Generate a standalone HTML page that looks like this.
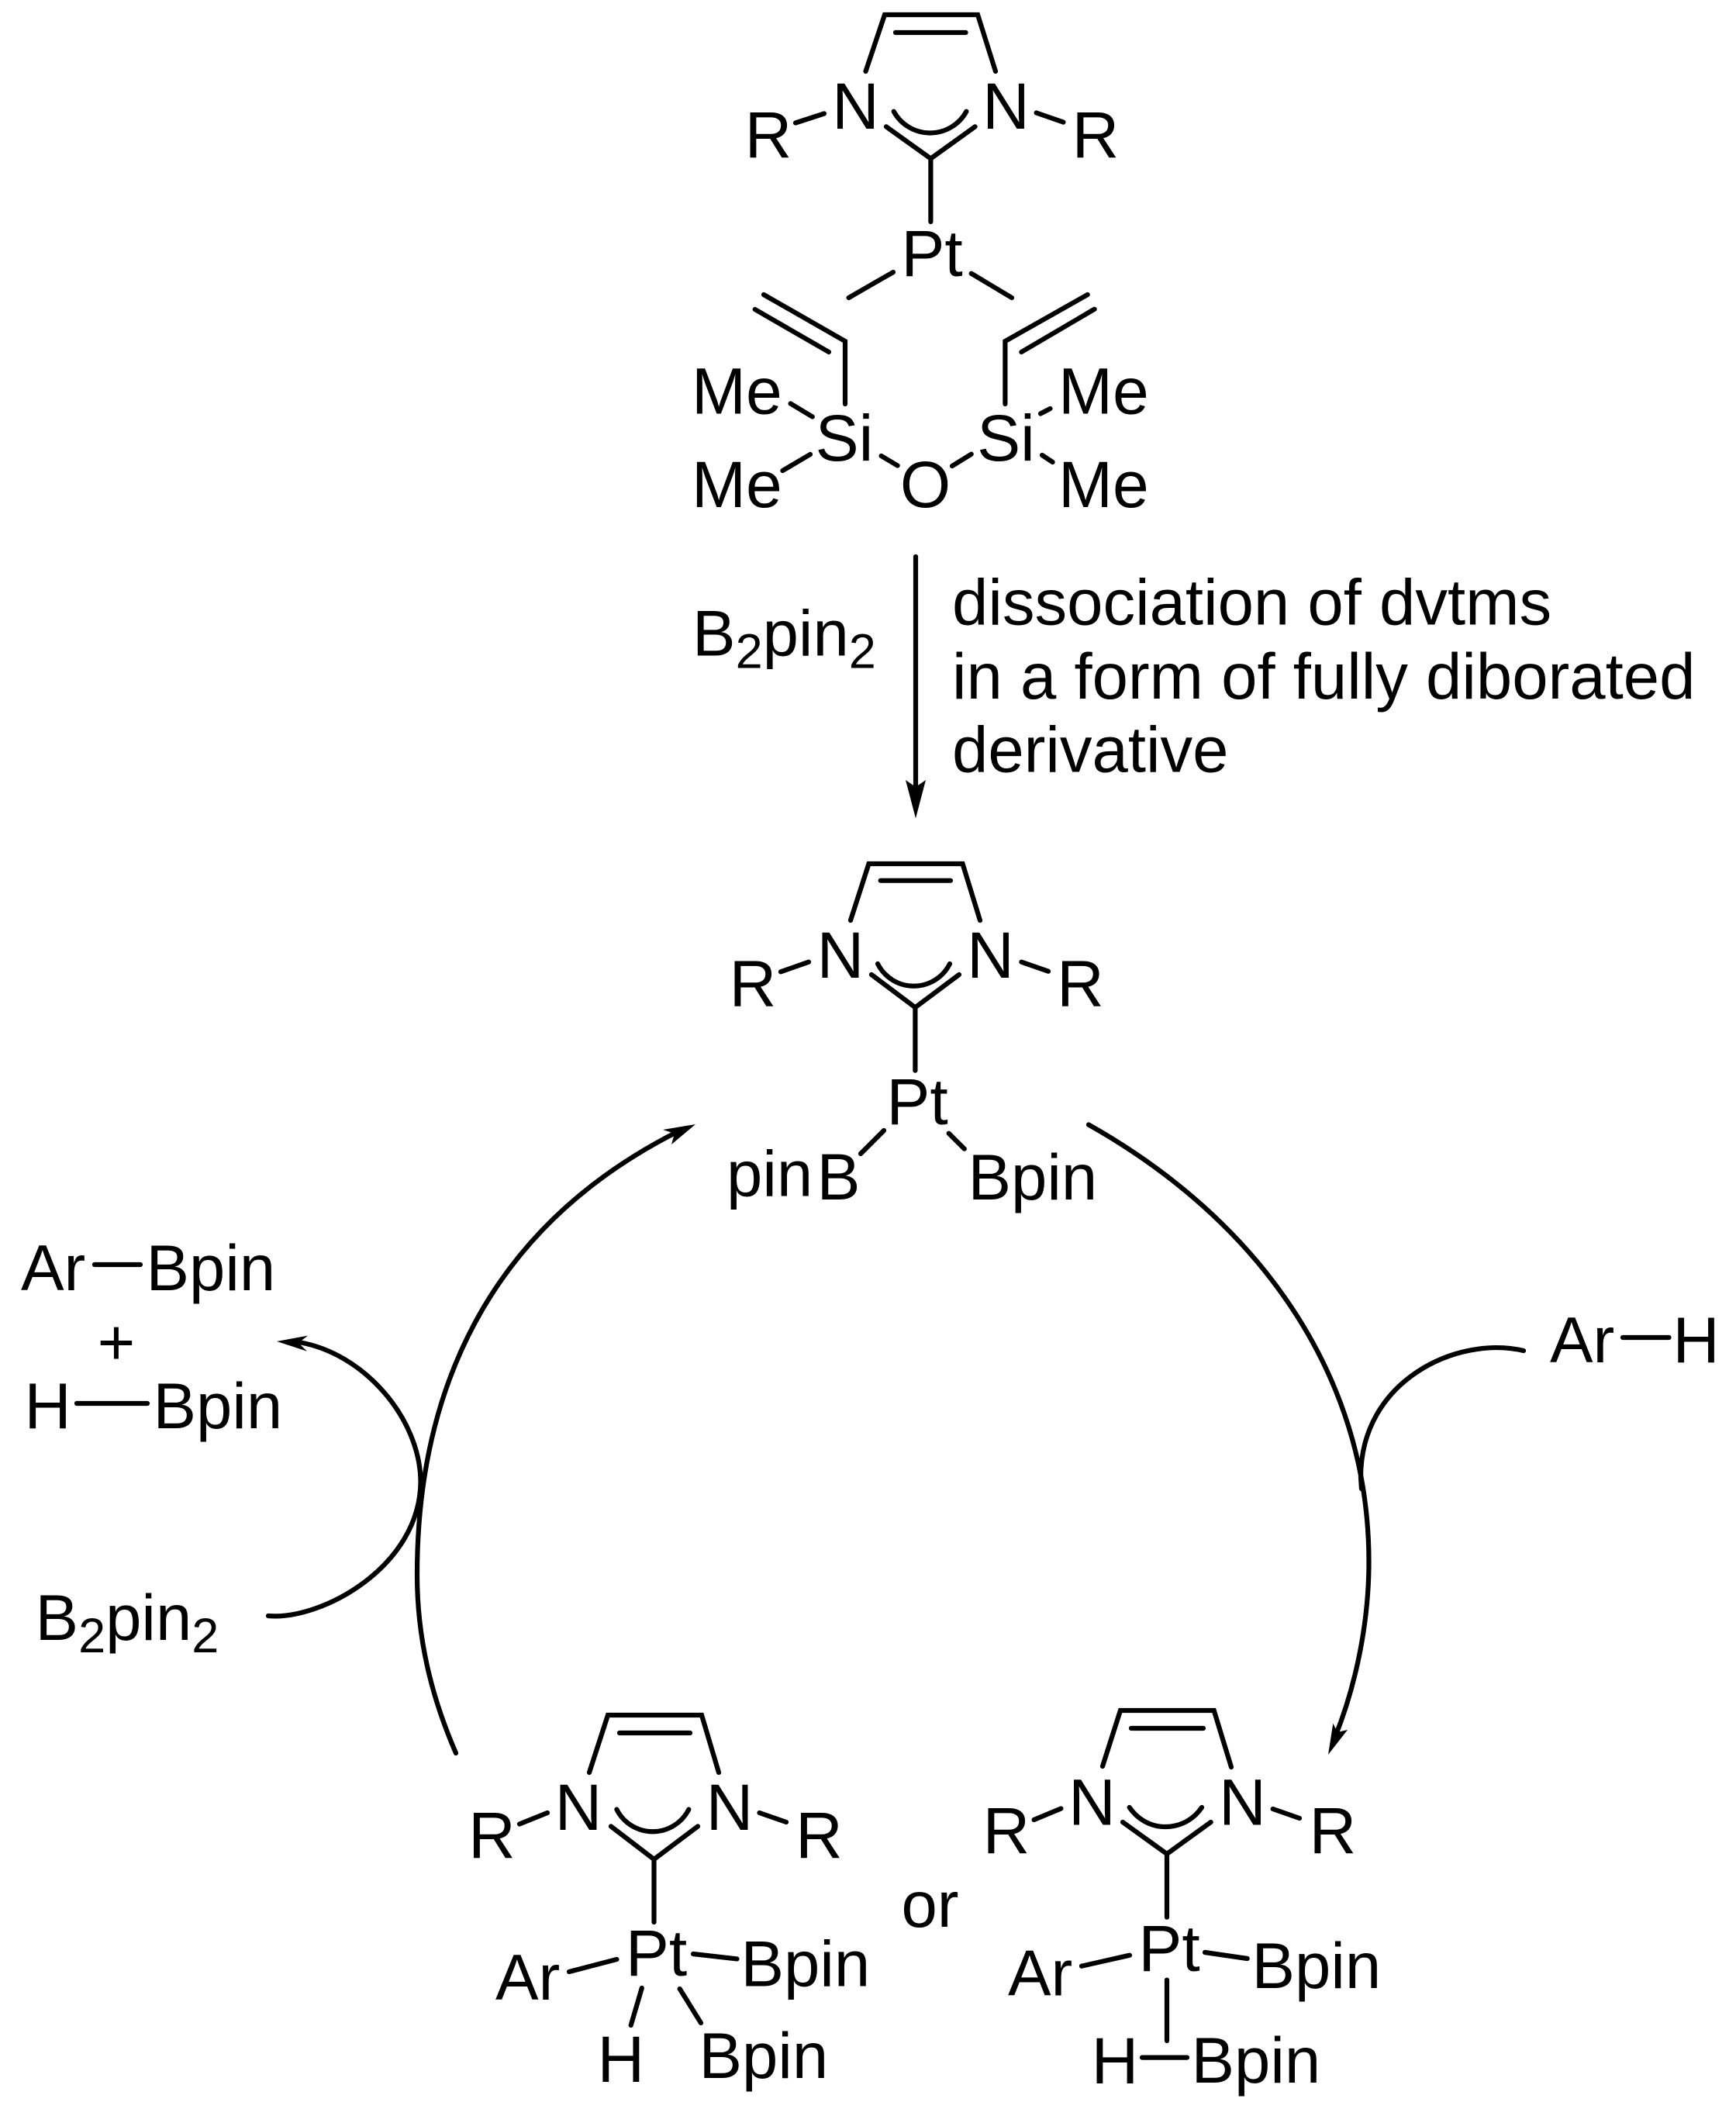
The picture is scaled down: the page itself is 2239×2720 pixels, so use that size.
<!DOCTYPE html>
<html><head><meta charset="utf-8"><style>
html,body{margin:0;padding:0;background:#fff}
svg{display:block}
text{font-family:"Liberation Sans",Arial,sans-serif;font-size:84px;fill:#000}
.m{text-anchor:middle}
.t{font-size:83.3px}
.s{font-size:63px}
path,line,polyline{fill:none;stroke:#000;stroke-width:6.2;stroke-linecap:round;stroke-linejoin:miter}
.a{fill:#000;stroke:none}
</style></head><body>
<svg width="2239" height="2720" viewBox="0 0 2239 2720" xmlns="http://www.w3.org/2000/svg">
<rect width="2239" height="2720" fill="#fff"/>

<!-- top complex -->
<polyline points="1116.5,92 1141,19 1261,19 1284,92"/>
<line x1="1155" y1="42" x2="1245.5" y2="42"/>
<line x1="1026" y1="158.5" x2="1063" y2="146.5"/>
<line x1="1336.6" y1="145.5" x2="1371.4" y2="157.6"/>
<polyline points="1143,163.4 1200.4,204.5 1257.6,163.4"/>
<path d="M1152.7,143.7 A53.4,53.4 0 0 0 1246.4,143.7"/>
<line x1="1200.4" y1="204.5" x2="1200.4" y2="286"/>
<line x1="1094.6" y1="384" x2="1152" y2="351"/>
<line x1="1252.7" y1="352.7" x2="1305" y2="384"/>
<polyline points="985,380 1090,440 1090,521"/>
<line x1="973.7" y1="399" x2="1069" y2="454"/>
<polyline points="1402.7,380 1296.4,440 1296.4,521"/>
<line x1="1411.6" y1="398.7" x2="1317.4" y2="454"/>
<line x1="1019.6" y1="520.5" x2="1047.8" y2="537.5"/>
<line x1="1009.4" y1="607" x2="1045" y2="586"/>
<line x1="1136.6" y1="588" x2="1157.6" y2="600.5"/>
<line x1="1228" y1="601" x2="1252.7" y2="585.7"/>
<line x1="1342" y1="533.5" x2="1354.5" y2="527"/>
<line x1="1344" y1="587" x2="1357.6" y2="596"/>
<text class="m" x="1103.5" y="166">N</text>
<text class="m" x="1297.5" y="166">N</text>
<text class="m" x="991" y="203">R</text>
<text class="m" x="1413" y="203">R</text>
<text class="m" x="1202" y="356">Pt</text>
<text x="892" y="533.5">Me</text>
<text x="892" y="654">Me</text>
<text x="1365" y="533.5">Me</text>
<text x="1365" y="654">Me</text>
<text class="m" x="1089" y="594">Si</text>
<text class="m" x="1297.5" y="594">Si</text>
<text class="m" x="1193.5" y="654">O</text>

<!-- main arrow -->
<line x1="1181" y1="718" x2="1181" y2="1020"/>
<polygon class="a" points="1181,1055.5 1168,1006 1181,1015 1194,1006"/>
<text class="t" x="893" y="845.5">B<tspan class="s" dy="16">2</tspan><tspan dy="-16">pin</tspan><tspan class="s" dy="16">2</tspan></text>
<text class="t" x="1228" y="805.5">dissociation of dvtms</text>
<text class="t" x="1228" y="901">in a form of fully diborated</text>
<text class="t" x="1228" y="995.5">derivative</text>

<!-- middle complex -->
<polyline points="1097,1187 1120.5,1114 1241.5,1114 1264,1187"/>
<line x1="1135.7" y1="1135.7" x2="1226" y2="1135.7"/>
<line x1="1007" y1="1253.3" x2="1043" y2="1240.7"/>
<line x1="1317.4" y1="1240.7" x2="1352" y2="1252.7"/>
<polyline points="1124,1257 1180.4,1299.3 1237,1257"/>
<path d="M1132,1243 A52,52 0 0 0 1225,1243"/>
<line x1="1180.4" y1="1299.3" x2="1180.4" y2="1380.7"/>
<line x1="1140" y1="1458" x2="1110" y2="1488"/>
<line x1="1223.7" y1="1461.7" x2="1243.8" y2="1481.7"/>
<text class="m" x="1084" y="1261">N</text>
<text class="m" x="1277.5" y="1261">N</text>
<text class="m" x="971" y="1297.7">R</text>
<text class="m" x="1393.5" y="1297.7">R</text>
<text class="m" x="1183" y="1450">Pt</text>
<text class="t" x="937" y="1542.7">pin</text>
<text x="1053.5" y="1547">B</text>
<text class="t" x="1248.5" y="1547">Bpin</text>

<!-- cycle arcs -->
<path d="M1404,1450.5 C1620,1572 1765.5,1770 1765.5,2014 C1765.5,2090 1750,2170 1722,2240"/>
<polygon class="a" points="1713,2263 1719.3,2222.7 1725,2234 1738,2231"/>
<path d="M1965,1742 C1880,1722 1755,1780 1755,1905 L1756,1920"/>
<path d="M588,2261 C555,2185 538,2110 538,2031 C538,1800 625,1585 875,1459"/>
<polygon class="a" points="897,1450 855,1457 870,1462 866,1476"/>
<path d="M346,2084 C415,2090 542,2020 542.5,1911 C542,1830 470,1745 385,1731"/>
<polygon class="a" points="357,1730 397,1722.6 385,1732 396,1742.7"/>

<!-- left products -->
<text class="t" x="27" y="1664">Ar</text>
<line x1="122" y1="1631" x2="181" y2="1631"/>
<text class="t" x="188.5" y="1664">Bpin</text>
<text class="m t" x="150" y="1760">+</text>
<text class="t" x="31.5" y="1842">H</text>
<line x1="99" y1="1810" x2="190" y2="1810"/>
<text class="t" x="197.5" y="1842">Bpin</text>
<text class="t" x="45.5" y="2115">B<tspan class="s" dy="16">2</tspan><tspan dy="-16">pin</tspan><tspan class="s" dy="16">2</tspan></text>

<!-- right reagent -->
<text class="t" x="1999" y="1757">Ar</text>
<line x1="2093" y1="1725" x2="2152.5" y2="1725"/>
<text class="t" x="2157.5" y="1757">H</text>

<!-- bottom left complex -->
<polyline points="760,2286 784,2212 905,2212 927,2286"/>
<line x1="799" y1="2235" x2="890" y2="2235"/>
<line x1="670" y1="2352.5" x2="706" y2="2338"/>
<line x1="979.5" y1="2338" x2="1014" y2="2350"/>
<polyline points="788,2355.5 843.5,2398 900,2355.5"/>
<path d="M795.4,2333.6 A52,52 0 0 0 888.3,2333.6"/>
<line x1="843.5" y1="2398" x2="843.5" y2="2479"/>
<line x1="734" y1="2543" x2="795.4" y2="2527"/>
<line x1="894" y1="2520" x2="950.5" y2="2526.4"/>
<line x1="827.8" y1="2564" x2="813.7" y2="2612"/>
<line x1="876.7" y1="2565" x2="904" y2="2609"/>
<text class="m" x="746" y="2360">N</text>
<text class="m" x="941" y="2360">N</text>
<text class="m" x="634.5" y="2396">R</text>
<text class="m" x="1056.5" y="2396">R</text>
<text class="m" x="846.5" y="2548">Pt</text>
<text class="t" x="639" y="2579">Ar</text>
<text class="t" x="955.5" y="2561.6">Bpin</text>
<text class="m" x="800.8" y="2685">H</text>
<text class="t" x="901.5" y="2680">Bpin</text>

<text class="m t" x="1199.5" y="2485">or</text>

<!-- bottom right complex -->
<polyline points="1422,2278 1445,2206 1565.7,2206 1588,2279"/>
<line x1="1459" y1="2229" x2="1552" y2="2229"/>
<line x1="1333.6" y1="2347" x2="1368.4" y2="2332.5"/>
<line x1="1641.7" y1="2333" x2="1676" y2="2345"/>
<polyline points="1448,2350 1505,2391 1561.7,2350"/>
<path d="M1456.7,2331 A56,56 0 0 0 1550,2331"/>
<line x1="1505" y1="2391" x2="1505" y2="2472.7"/>
<line x1="1395" y1="2535.7" x2="1457" y2="2521.7"/>
<line x1="1554" y1="2518" x2="1608.7" y2="2526"/>
<line x1="1505" y1="2553.6" x2="1505" y2="2632"/>
<line x1="1473" y1="2653.6" x2="1531" y2="2653.6"/>
<text class="m" x="1408.5" y="2353.3">N</text>
<text class="m" x="1602.5" y="2353.3">N</text>
<text class="m" x="1298" y="2390">R</text>
<text class="m" x="1719" y="2390">R</text>
<text class="m" x="1508" y="2542">Pt</text>
<text class="t" x="1300" y="2573.6">Ar</text>
<text class="t" x="1614.5" y="2564">Bpin</text>
<text class="m" x="1438" y="2687">H</text>
<text class="t" x="1536.5" y="2686">Bpin</text>
</svg>
</body></html>
